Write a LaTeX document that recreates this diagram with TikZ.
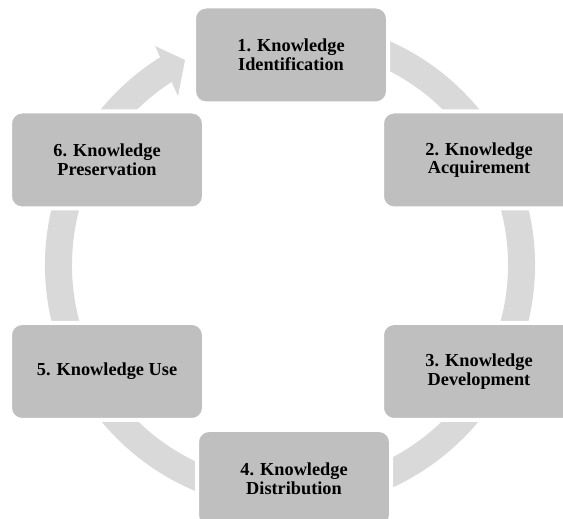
\documentclass[tikz,border=0pt]{standalone}
\usepackage{fontspec}
\setmainfont{Liberation Serif}
\definecolor{boxgray}{HTML}{BFBFBF}
\definecolor{ringgray}{HTML}{D9D9D9}
\tikzset{
  kbox/.style={fill=boxgray, draw=white, line width=4pt, rounded corners=12pt,
    minimum width=194pt, minimum height=97pt, inner sep=0pt, align=center,
    font=\fontsize{18.3}{18.6}\selectfont\bfseries},
  ring/.style={fill=ringgray, draw=none}
}
\begin{document}
\begin{tikzpicture}[x=1pt,y=1pt]
\useasboundingbox (0,0) rectangle (563,519);
\clip (0,0) rectangle (563,519);
% ring with arrowhead
\coordinate (c) at (290,254);
\fill[ring, shift={(c)}] (75:245) arc[start angle=75, end angle=-238.5, radius=245]
   -- (-238.5:218) arc[start angle=-238.5, end angle=75, radius=218] -- cycle;
\fill[ring, shift={(c)}] (121.65:257.3) -- (117.12:230.3) -- (123.54:202.7) -- cycle;
% boxes
\node[kbox] (b1) at (291,464) {1. Knowledge\\Identification};
\node[kbox] (b2) at (479,359) {2. Knowledge\\Acquirement};
\node[kbox] (b3) at (479,147.5) {3. Knowledge\\Development};
\node[kbox] (b4) at (294,40.5) {4. Knowledge\\Distribution};
\node[kbox] (b5) at (107,147.5) {5. Knowledge Use};
\node[kbox] (b6) at (107,359) {6. Knowledge\\Preservation};
\end{tikzpicture}
\end{document}
